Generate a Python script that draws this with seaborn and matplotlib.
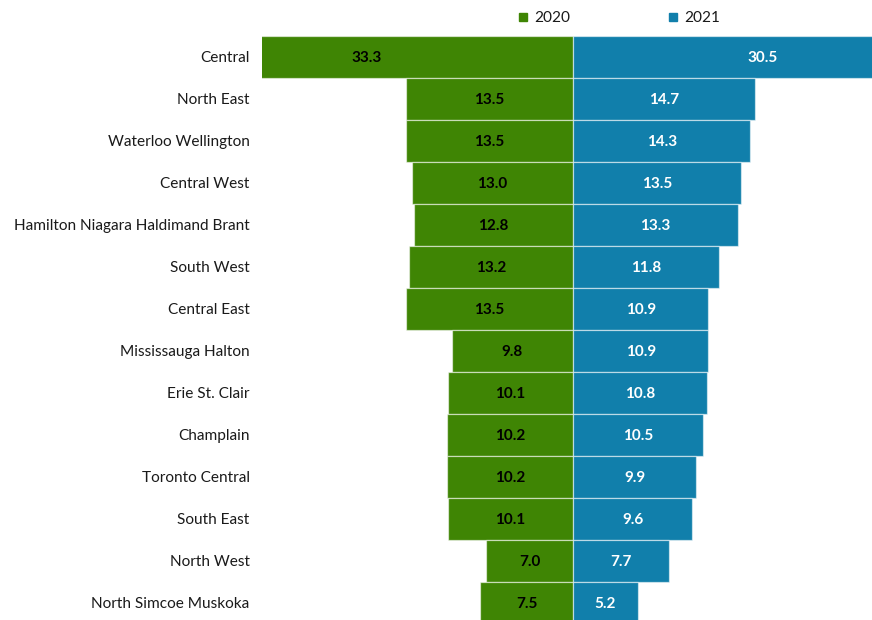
import matplotlib
matplotlib.use("Agg")
import matplotlib.pyplot as plt
from matplotlib.lines import Line2D
import seaborn as sns
import pandas as pd

regions = [
    "Central", "North East", "Waterloo Wellington", "Central West",
    "Hamilton Niagara Haldimand Brant", "South West", "Central East",
    "Mississauga Halton", "Erie St. Clair", "Champlain", "Toronto Central",
    "South East", "North West", "North Simcoe Muskoka",
]
values_2020 = [33.3, 13.5, 13.5, 13.0, 12.8, 13.2, 13.5, 9.8, 10.1, 10.2, 10.2, 10.1, 7.0, 7.5]
values_2021 = [30.5, 14.7, 14.3, 13.5, 13.3, 11.8, 10.9, 10.9, 10.8, 10.5, 9.9, 9.6, 7.7, 5.2]

GREEN = "#3f8504"
BLUE = "#117fab"

sns.set_style("white")
plt.rcParams["font.family"] = ["Lato", "DejaVu Sans"]

df = pd.DataFrame({
    "region": regions,
    "left": [-v for v in values_2020],
    "right": values_2021,
})

fig = plt.figure(figsize=(8.72, 6.2), dpi=100)
ax = fig.add_axes([0.3005, -0.006, 0.6995, 0.9485])

edge = (1, 1, 1, 0.55)
sns.barplot(data=df, x="left", y="region", orient="h", color=GREEN,
            width=1.0, edgecolor=edge, linewidth=0.9, ax=ax, saturation=1)
sns.barplot(data=df, x="right", y="region", orient="h", color=BLUE,
            width=1.0, edgecolor=edge, linewidth=0.9, ax=ax, saturation=1)

ax.set_xlim(-25.08, 24.1)
ax.set_ylim(len(regions) - 0.5, -0.5)

for i, (a, b) in enumerate(zip(values_2020, values_2021)):
    ax.text(-a / 2, i + 0.04, f"{a:.1f}", ha="center", va="center",
            fontsize=11, fontweight="bold", color="black", clip_on=False)
    ax.text(b / 2, i + 0.04, f"{b:.1f}", ha="center", va="center",
            fontsize=11, fontweight="bold", color="white", clip_on=False)

for s in ax.spines.values():
    s.set_visible(False)
ax.set_xticks([])
ax.set_xlabel("")
ax.set_ylabel("")
ax.tick_params(axis="y", length=0, pad=15, labelsize=11.1, labelcolor="#1a1a1a")
for lbl in ax.get_yticklabels():
    lbl.set_x(-0.0)
ax.tick_params(axis="y", pad=9)

handles = [
    Line2D([], [], marker="s", linestyle="none", markersize=6,
           markerfacecolor=GREEN, markeredgecolor=GREEN, label="2020"),
    Line2D([], [], marker="s", linestyle="none", markersize=6,
           markerfacecolor=BLUE, markeredgecolor=BLUE, label="2021"),
]
fig.legend(handles=handles, loc="center", bbox_to_anchor=(0.709, 0.971),
           ncol=2, frameon=False, fontsize=11.1, handlelength=0.8,
           handletextpad=0.3, columnspacing=6.3, labelcolor="#1a1a1a")

fig.savefig("out.png", dpi=100)
